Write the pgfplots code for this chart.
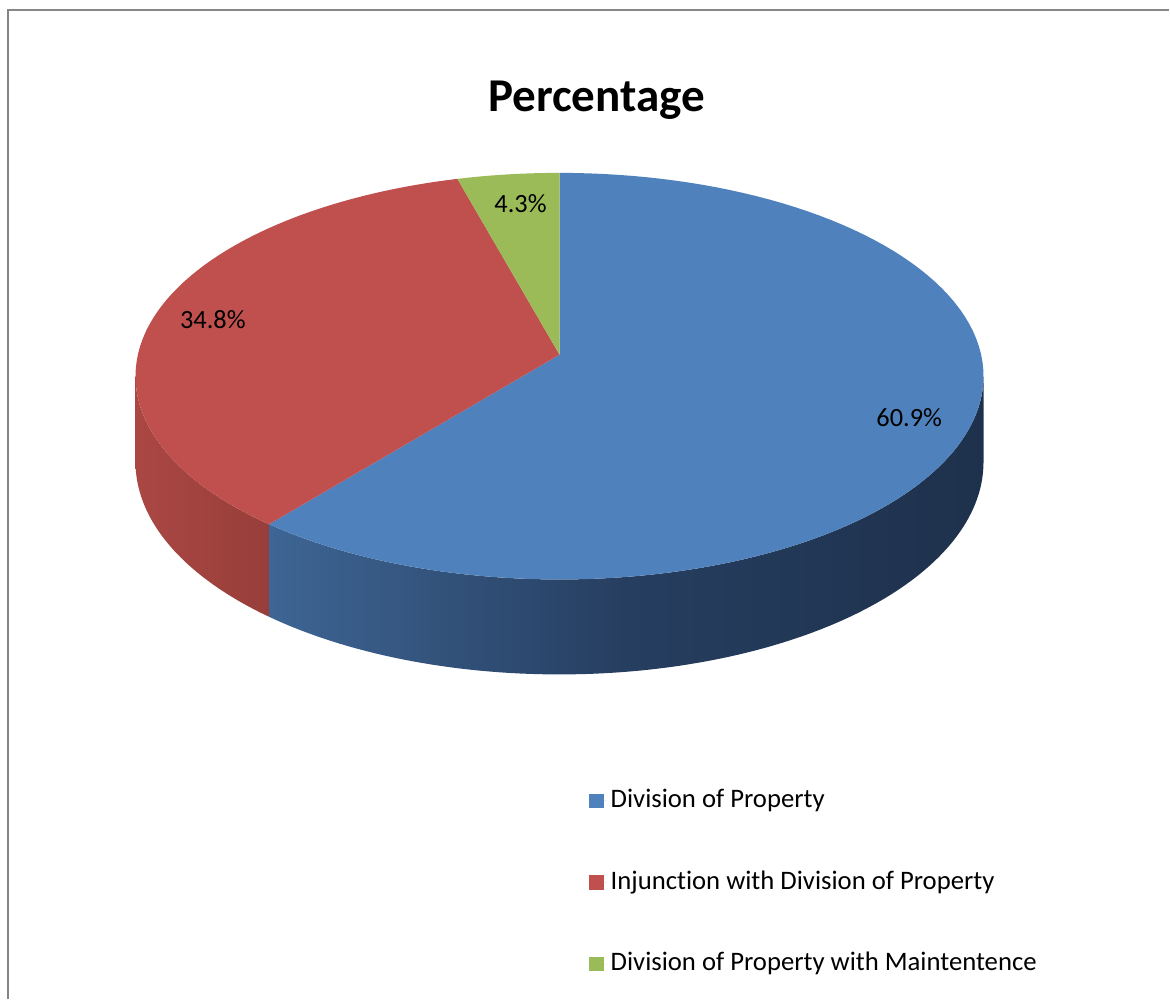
\documentclass[border=0pt]{standalone}
\usepackage{pgfplots}
\pgfplotsset{compat=1.18}
\usepackage{fontspec}
\setmainfont{Carlito}[Ligatures=NoCommon]
\definecolor{cBlue}{RGB}{79,129,189}
\definecolor{cRed}{RGB}{192,80,77}
\definecolor{cGreen}{RGB}{155,187,89}
\definecolor{sB1}{RGB}{62,101,148}
\definecolor{sB2}{RGB}{38,62,96}
\definecolor{sB3}{RGB}{30,49,76}
\definecolor{sR1}{RGB}{170,71,67}
\definecolor{sR2}{RGB}{152,62,58}
\definecolor{frame}{RGB}{134,134,134}
\begin{document}
\begin{tikzpicture}
% data (percentages)
\def\vA{60.9}\def\vB{34.8}\def\vC{4.3}
\pgfmathsetmacro\aO{90}
\pgfmathsetmacro\aA{90-3.6*\vA}
\pgfmathsetmacro\aB{\aA-3.6*\vB}
\pgfmathsetmacro\aC{\aB-3.6*\vC}
\begin{axis}[scale only axis, width=11.7cm, height=10cm,
  xmin=0, xmax=1170, ymin=0, ymax=1000, hide axis, clip=false,
  declare function={
    PX(\x,\y)=560+422*\x*cos(\y)/(1+0.1057*\x*sin(\y));
    PY(\x,\y)=645+201.2*\x*sin(\y)/(1+0.1057*\x*sin(\y));
    WR(\x)=ifthenelse(\x<1,\x,ifthenelse(\x<2,1,3-\x));
    WA(\x,\y,\z)=ifthenelse(\x<1,\y,ifthenelse(\x<2,\y+(\z-\y)*(\x-1),\z));
    SA(\x,\y,\z)=ifthenelse(\x<1,\y+(\z-\y)*\x,ifthenelse(\x<2,\z,\z+(\y-\z)*(\x-2)));
    SF(\x)=ifthenelse(\x<1,0,ifthenelse(\x<2,\x-1,1));
  },
  legend image code/.code={\fill[#1] (0mm,-0.72mm) rectangle (1.45mm,0.72mm); \path (0mm,0mm) -- (1.75mm,0mm);},
  legend style={at={(axis cs:589,215)}, anchor=north west, draw=none, fill=none,
    inner sep=0pt, row sep=5.0mm, nodes={inner sep=0.4mm},
    font=\fontsize{7.6}{9}\selectfont},
  legend cell align=left,
]
\path (axis cs:0,0) rectangle (axis cs:1170,1000);
\draw[frame, line width=0.57pt] (axis cs:8.5,0) -- (axis cs:8.5,989.5) -- (axis cs:1170,989.5);
% sides
\addplot[draw=none, left color=sR1, right color=sR2, samples=301, domain=0:3, variable=\t, forget plot]
  ({PX(1,SA(\t,-173.93,\aA))}, {PY(1,SA(\t,-173.93,\aA)) - 85*SF(\t)/(1+0.1057*sin(SA(\t,-173.93,\aA)))});
\addplot[draw=none, left color=sB1, right color=sB3, middle color=sB2, samples=301, domain=0:3, variable=\t, forget plot]
  ({PX(1,SA(\t,\aA,-6.07))}, {PY(1,SA(\t,\aA,-6.07)) - 85*SF(\t)/(1+0.1057*sin(SA(\t,\aA,-6.07)))});
% tops
\addplot[draw=none, fill=cBlue, samples=301, domain=0:3, variable=\t, forget plot]
  ({PX(WR(\t),WA(\t,\aO,\aA))}, {PY(WR(\t),WA(\t,\aO,\aA))});
\addplot[draw=none, fill=cRed, samples=301, domain=0:3, variable=\t, forget plot]
  ({PX(WR(\t),WA(\t,\aA,\aB))}, {PY(WR(\t),WA(\t,\aA,\aB))});
\addplot[draw=none, fill=cGreen, samples=301, domain=0:3, variable=\t, forget plot]
  ({PX(WR(\t),WA(\t,\aB,\aC))}, {PY(WR(\t),WA(\t,\aB,\aC))});
% labels
\node[font=\fontsize{7.5}{9}\selectfont] at (axis cs:910,582) {60.9\%};
\node[font=\fontsize{7.5}{9}\selectfont] at (axis cs:213,680) {34.8\%};
\node[font=\fontsize{7.5}{9}\selectfont] at (axis cs:521,796) {4.3\%};
\node[font=\bfseries\fontsize{13.4}{16}\selectfont] at (axis cs:597,900) {Percentage};
% legend
\addlegendimage{draw=none, fill=cBlue}
\addlegendentry{Division of Property}
\addlegendimage{draw=none, fill=cRed}
\addlegendentry{Injunction with Division of Property}
\addlegendimage{draw=none, fill=cGreen}
\addlegendentry{Division of Property with Maintentence}
\end{axis}
\end{tikzpicture}
\end{document}
